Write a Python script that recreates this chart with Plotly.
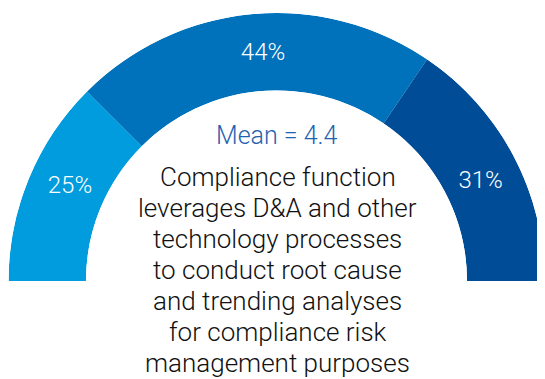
import numpy as np
import plotly.graph_objects as go

# ── Data ──────────────────────────────────────────────────────────────────────

SHARES = [25, 44, 31]
SHARE_LABELS = ["25%", "44%", "31%"]
COLORS = ["#009CDE", "#0072BC", "#004C97"]
MEAN_TEXT = "Mean = 4.4"
STATEMENT_LINES = [
    "Compliance function",
    "leverages D&A and other",
    "technology processes",
    "to conduct root cause",
    "and trending analyses",
    "for compliance risk",
    "management purposes",
]

FONT = "Roboto"

# the page body has an 8px margin, so the figure is drawn 8px smaller
WIDTH, HEIGHT = 537, 371
MARGIN = {"l": 0, "r": 0, "t": 5, "b": 98}
PLOT_H = HEIGHT - MARGIN["t"] - MARGIN["b"]
LABEL_NUDGE = -2  # degrees, labels sit a touch clockwise of the segment middle


def paper_y(pixel_y):
    """Figure pixel row -> paper y for annotations."""
    return (HEIGHT - MARGIN["b"] - pixel_y) / PLOT_H


# half-donut: shares run clockwise from 180° (left) to 0° (right)
shares = np.array(SHARES, dtype=float)
widths = shares / shares.sum() * 180
starts = 180 - np.concatenate([[0], np.cumsum(widths)[:-1]])
centers = starts - widths / 2

fig = go.Figure()
fig.add_trace(go.Barpolar(
    r=[1] * len(SHARES), theta=centers, width=widths,
    marker={"color": COLORS, "line": {"width": 0}},
    hoverinfo="skip", showlegend=False,
))
fig.add_trace(go.Scatterpolar(
    r=[0.47] * len(SHARES), theta=centers + LABEL_NUDGE, mode="text", text=SHARE_LABELS,
    textfont={"family": FONT, "size": 24, "color": "white", "weight": 300},
    hoverinfo="skip", showlegend=False,
))

annotations = [
    {"text": MEAN_TEXT, "x": 0.5, "y": paper_y(127), "xref": "paper", "yref": "paper", "showarrow": False,
     "xanchor": "center", "yanchor": "middle",
     "font": {"family": FONT, "size": 25, "color": "#1F63B0", "weight": 300}},
]
for index, line in enumerate(STATEMENT_LINES):
    annotations.append({
        "text": line, "x": 0.502, "y": paper_y(169 + index * 31), "xref": "paper", "yref": "paper",
        "showarrow": False, "xanchor": "center", "yanchor": "middle",
        "font": {"family": FONT, "size": 26, "color": "#111111", "weight": 300},
    })

fig.update_layout(
    width=WIDTH, height=HEIGHT,
    margin=MARGIN,
    paper_bgcolor="white", plot_bgcolor="white",
    polar={
        "sector": [0, 180], "hole": 0.711, "bgcolor": "white",
        "radialaxis": {"visible": False, "range": [0, 1]},
        "angularaxis": {"visible": False, "direction": "counterclockwise", "rotation": 0},
    },
    annotations=annotations,
)

fig.write_html("out.html")
